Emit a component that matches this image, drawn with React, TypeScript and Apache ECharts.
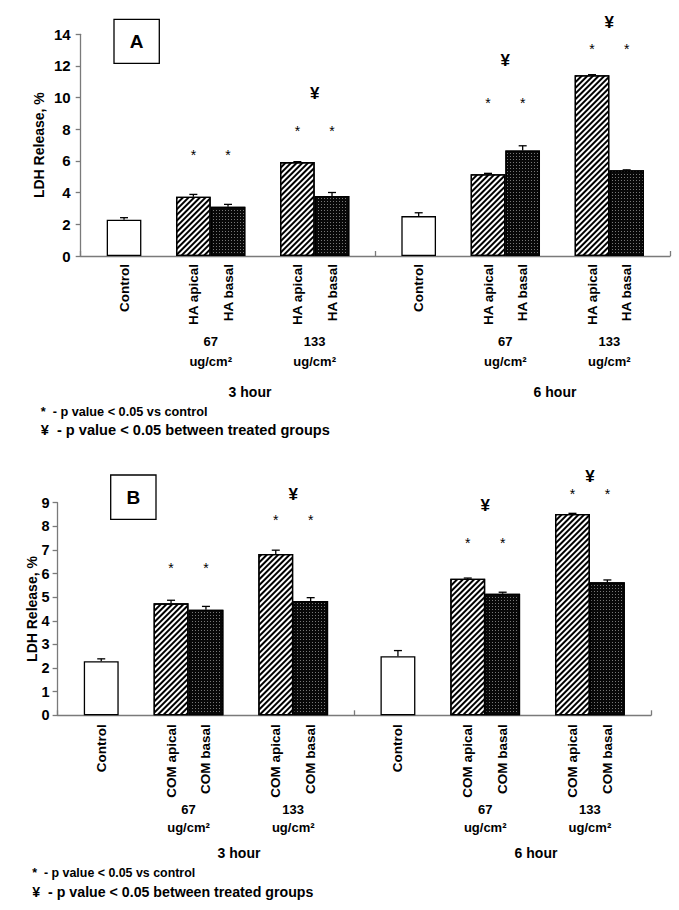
import React, { useEffect, useRef } from 'react';
import * as echarts from 'echarts';

// ---------------- data ----------------
const timeGroups = ['3 hour', '6 hour'];
const doseLabels = ['67', '133'];
const doseUnit = 'ug/cm²';
const conditionsA = ['Control', 'HA apical', 'HA basal', 'HA apical', 'HA basal'];
const conditionsB = ['Control', 'COM apical', 'COM basal', 'COM apical', 'COM basal'];
const barKinds = ['control', 'apical', 'basal', 'apical', 'basal'];

// LDH release, % (mean) and error (SE) — panel A (HA)
const ldhA3h = [2.29, 3.74, 3.11, 5.93, 3.79];
const ldhA3hErr = [0.13, 0.15, 0.15, 0.03, 0.22];
const ldhA6h = [2.52, 5.17, 6.67, 11.42, 5.41];
const ldhA6hErr = [0.21, 0.05, 0.29, 0.03, 0.03];
// panel B (COM)
const ldhB3h = [2.29, 4.74, 4.47, 6.83, 4.84];
const ldhB3hErr = [0.1, 0.13, 0.14, 0.16, 0.14];
const ldhB6h = [2.5, 5.78, 5.15, 8.52, 5.63];
const ldhB6hErr = [0.24, 0.03, 0.06, 0.03, 0.1];

// heights (LDH %) at which significance marks are drawn
const starA3h = [null, 6.55, 6.55, 8.1, 8.1];
const starA6h = [null, 9.84, 9.84, 13.27, 13.27];
const yenA3h = [null, 10.27];
const yenA6h = [12.37, 14.72];
const starB3h = [null, 6.35, 6.35, 8.41, 8.41];
const starB6h = [null, 7.42, 7.42, 9.51, 9.51];
const yenB3h = [null, 9.36];
const yenB6h = [8.9, 10.1];

const yMaxA = 14;
const yStepA = 2;
const yMaxB = 9;
const yStepB = 1;

const yAxisName = 'LDH Release, %';
const footnotes = ['*  - p value < 0.05 vs control', '¥  - p value < 0.05 between treated groups'];

// ---------------- layout ----------------
const SLOTS_PER_GROUP = 17;
const TOTAL_SLOTS = SLOTS_PER_GROUP * 2;
const barSlot = [2, 6, 8, 12, 14];
const pairSlot = [7, 13];
const FONT = 'Liberation Sans, Arial, sans-serif';
const AXIS_GREY = '#7a7a7a';

type PanelCfg = {
  letter: string;
  grid: { left: number; top: number; width: number; height: number };
  conds: string[];
  vals: number[][];
  errs: number[][];
  stars: (number | null)[][];
  yens: (number | null)[][];
  yMax: number;
  yStep: number;
  yLabelSize: number;
  yLabelMargin: number;
  nameGap: number;
  labelMargin: number;
  box: { x: number; y: number; w: number; h: number };
  doseY: number[];
  hourX: number[];
  hourY: number;
  noteX: number;
  noteY: number[];
  noteSize: number[];
};

const panels: PanelCfg[] = [
  {
    letter: 'A',
    grid: { left: 80.7, top: 34.3, width: 589.3, height: 221.7 },
    conds: conditionsA,
    vals: [ldhA3h, ldhA6h],
    errs: [ldhA3hErr, ldhA6hErr],
    stars: [starA3h, starA6h],
    yens: [yenA3h, yenA6h],
    yMax: yMaxA,
    yStep: yStepA,
    yLabelSize: 15,
    yLabelMargin: 10,
    nameGap: 35,
    labelMargin: 8,
    box: { x: 114, y: 19.3, w: 45.3, h: 44 },
    doseY: [341.7, 361.7],
    hourX: [250, 555],
    hourY: 392.3,
    noteX: 40.7,
    noteY: [412.3, 430],
    noteSize: [12.7, 14.6],
  },
  {
    letter: 'B',
    grid: { left: 57.6, top: 502.7, width: 593.4, height: 212.6 },
    conds: conditionsB,
    vals: [ldhB3h, ldhB6h],
    errs: [ldhB3hErr, ldhB6hErr],
    stars: [starB3h, starB6h],
    yens: [yenB3h, yenB6h],
    yMax: yMaxB,
    yStep: yStepB,
    yLabelSize: 14.5,
    yLabelMargin: 8,
    nameGap: 19,
    labelMargin: 9,
    box: { x: 110.7, y: 475, w: 45.3, h: 44.3 },
    doseY: [809, 827.7],
    hourX: [239, 536],
    hourY: 852.5,
    noteX: 32.3,
    noteY: [873.3, 891.7],
    noteSize: [12.4, 14.2],
  },
];

const kindStyle = (kind: string) => {
  const base = { borderColor: '#000', borderWidth: 1.3 };
  if (kind === 'apical') {
    return {
      ...base,
      color: '#fff',
      decal: {
        symbol: 'rect',
        symbolSize: 1,
        color: '#000',
        dashArrayX: [1, 0],
        dashArrayY: [1.2, 1.8],
        rotation: -Math.PI / 4,
      },
    };
  }
  if (kind === 'basal') {
    return {
      ...base,
      color: '#080808',
      decal: {
        symbol: 'rect',
        symbolSize: 1,
        color: 'rgba(255,255,255,0.45)',
        dashArrayX: [1, 2],
        dashArrayY: [1, 2],
        rotation: 0,
      },
    };
  }
  return { ...base, color: '#fff' };
};

function buildPanel(cfg: PanelCfg, pi: number) {
  const { grid } = cfg;
  const slotW = grid.width / TOTAL_SLOTS;
  const categories: string[] = new Array(TOTAL_SLOTS).fill('');
  const barData: any[] = new Array(TOTAL_SLOTS).fill('-');
  const errData: number[][] = [];
  const marks: { slot: number; y: number; text: string }[] = [];

  timeGroups.forEach((_, g) => {
    cfg.conds.forEach((c, i) => {
      const slot = g * SLOTS_PER_GROUP + barSlot[i];
      categories[slot] = c;
      barData[slot] = { value: cfg.vals[g][i], itemStyle: kindStyle(barKinds[i]) };
      errData.push([slot, cfg.vals[g][i], cfg.errs[g][i]]);
      const s = cfg.stars[g][i];
      if (s != null) marks.push({ slot, y: s, text: '*' });
    });
    cfg.yens[g].forEach((yv, d) => {
      if (yv != null) marks.push({ slot: g * SLOTS_PER_GROUP + pairSlot[d], y: yv, text: '¥' });
    });
  });

  const xMain = pi * 2;
  const graphics: any[] = [];
  graphics.push({
    type: 'rect',
    shape: { x: cfg.box.x, y: cfg.box.y, width: cfg.box.w, height: cfg.box.h },
    style: { fill: '#fff', stroke: '#000', lineWidth: 1.3 },
  });
  graphics.push({
    type: 'text',
    x: cfg.box.x + cfg.box.w / 2,
    y: cfg.box.y + cfg.box.h / 2 + 0.5,
    style: {
      text: cfg.letter,
      font: `bold 19px ${FONT}`,
      fill: '#000',
      textAlign: 'center',
      textVerticalAlign: 'middle',
    },
  });
  timeGroups.forEach((hour, g) => {
    doseLabels.forEach((dose, d) => {
      const cx = grid.left + (g * SLOTS_PER_GROUP + pairSlot[d] + 0.5) * slotW;
      graphics.push({
        type: 'text',
        x: cx,
        y: cfg.doseY[0],
        style: { text: dose, font: `bold 13px ${FONT}`, fill: '#000', textAlign: 'center', textVerticalAlign: 'middle' },
      });
      graphics.push({
        type: 'text',
        x: cx,
        y: cfg.doseY[1],
        style: { text: doseUnit, font: `bold 13px ${FONT}`, fill: '#000', textAlign: 'center', textVerticalAlign: 'middle' },
      });
    });
    graphics.push({
      type: 'text',
      x: cfg.hourX[g],
      y: cfg.hourY,
      style: { text: hour, font: `bold 14px ${FONT}`, fill: '#000', textAlign: 'center', textVerticalAlign: 'middle' },
    });
  });
  footnotes.forEach((t, k) => {
    graphics.push({
      type: 'text',
      x: cfg.noteX,
      y: cfg.noteY[k],
      style: { text: t, font: `bold ${cfg.noteSize[k]}px ${FONT}`, fill: '#000', textAlign: 'left', textVerticalAlign: 'middle' },
    });
  });

  const xAxes = [
    {
      type: 'category',
      gridIndex: pi,
      position: 'bottom',
      data: categories,
      boundaryGap: true,
      axisLine: { show: true, lineStyle: { color: AXIS_GREY, width: 1.3 } },
      axisTick: { show: false },
      axisLabel: {
        interval: 0,
        rotate: 90,
        margin: cfg.labelMargin,
        color: '#000',
        fontWeight: 'bold',
        fontSize: 13.5,
        fontFamily: FONT,
      },
      splitLine: { show: false },
    },
    {
      type: 'category',
      gridIndex: pi,
      position: 'bottom',
      data: timeGroups,
      boundaryGap: true,
      axisLine: { show: false },
      axisTick: { show: true, inside: true, length: 5, lineStyle: { color: AXIS_GREY, width: 1.3 } },
      axisLabel: { show: false },
      splitLine: { show: false },
    },
  ];

  const yAxis = {
    type: 'value',
    gridIndex: pi,
    min: 0,
    max: cfg.yMax,
    interval: cfg.yStep,
    name: yAxisName,
    nameLocation: 'middle',
    nameRotate: 90,
    nameGap: cfg.nameGap,
    nameMoveOverlap: false,
    nameTextStyle: { color: '#000', fontWeight: 'bold', fontSize: 14, fontFamily: FONT },
    axisLine: { show: true, lineStyle: { color: AXIS_GREY, width: 1.3 } },
    axisTick: { show: true, inside: false, length: 5, lineStyle: { color: AXIS_GREY, width: 1.3 } },
    axisLabel: { color: '#000', fontWeight: 'bold', fontSize: cfg.yLabelSize, fontFamily: FONT, margin: cfg.yLabelMargin },
    splitLine: { show: false },
  };

  const series = [
    {
      type: 'bar',
      xAxisIndex: xMain,
      yAxisIndex: pi,
      data: barData,
      barWidth: slotW * 2,
      silent: true,
      z: 2,
    },
    {
      type: 'custom',
      xAxisIndex: xMain,
      yAxisIndex: pi,
      data: errData,
      silent: true,
      z: 3,
      renderItem: (params: any, api: any) => {
        const x = api.value(0);
        const v = api.value(1);
        const e = api.value(2);
        const p0 = api.coord([x, v]);
        const p1 = api.coord([x, v + e]);
        const cap = 4;
        return {
          type: 'group',
          children: [
            { type: 'line', shape: { x1: p0[0], y1: p0[1], x2: p1[0], y2: p1[1] }, style: { stroke: '#000', lineWidth: 1.3 } },
            { type: 'line', shape: { x1: p1[0] - cap, y1: p1[1], x2: p1[0] + cap, y2: p1[1] }, style: { stroke: '#000', lineWidth: 1.3 } },
          ],
        };
      },
    },
    {
      type: 'custom',
      xAxisIndex: xMain,
      yAxisIndex: pi,
      data: marks.map((m) => [m.slot, m.y]),
      silent: true,
      z: 4,
      renderItem: (params: any, api: any) => {
        const m = marks[params.dataIndex];
        const p = api.coord([api.value(0), api.value(1)]);
        const isStar = m.text === '*';
        return {
          type: 'text',
          x: p[0],
          y: p[1] + (isStar ? 3 : 0),
          style: {
            text: m.text,
            font: isStar ? `14px ${FONT}` : `bold 17px ${FONT}`,
            fill: '#000',
            textAlign: 'center',
            textVerticalAlign: 'middle',
          },
        };
      },
    },
  ];

  return { grid: { ...grid, containLabel: false }, xAxes, yAxis, series, graphics };
}

export default function App() {
  const ref = useRef<HTMLDivElement>(null);
  useEffect(() => {
    document.body.style.margin = '0';
    if (!ref.current) return;
    const chart = echarts.init(ref.current, null, { renderer: 'svg' });
    const built = panels.map((p, i) => buildPanel(p, i));
    chart.setOption({
      animation: false,
      backgroundColor: '#fff',
      grid: built.map((b) => b.grid),
      xAxis: built.flatMap((b) => b.xAxes),
      yAxis: built.map((b) => b.yAxis),
      series: built.flatMap((b) => b.series),
      graphic: built.flatMap((b) => b.graphics),
    });
    return () => chart.dispose();
  }, []);
  return <div ref={ref} style={{ width: 679, height: 910 }} />;
}
